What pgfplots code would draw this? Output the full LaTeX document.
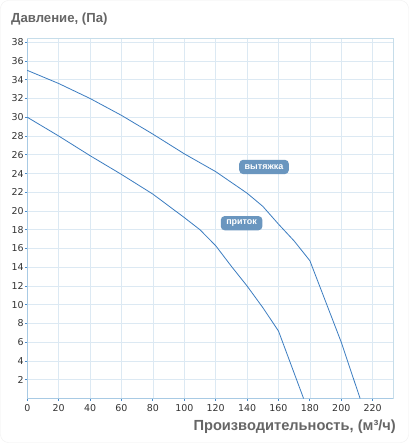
\documentclass[border=0pt]{standalone}
\usepackage{pgfplots}
\pgfplotsset{compat=1.18}
\usepackage{fontspec}
\setmainfont{Liberation Sans}
\newfontfamily\tickfont{DejaVu Sans}
\definecolor{curve}{HTML}{3C7DC1}
\definecolor{gridc}{HTML}{DCE9F3}
\definecolor{axc}{HTML}{A8CAE4}
\definecolor{framec}{HTML}{C6DDEA}
\definecolor{tickc}{HTML}{4A8CCB}
\definecolor{boxc}{HTML}{6A96BF}
\definecolor{txtc}{HTML}{666666}
\definecolor{numc}{HTML}{333333}
\begin{document}
\begin{tikzpicture}
\path[fill=white] (0,0) rectangle (409bp,443bp);
\draw[black!6, rounded corners=8bp] (0.5bp,0.5bp) rectangle (408.5bp,442.5bp);
\begin{axis}[
  at={(27.3bp,44.5bp)}, anchor=origin,
  scale only axis, width=366.4bp, height=360bp,
  xmin=0, xmax=233.4, ymin=0, ymax=38.4,
  xtick={0,20,...,220}, ytick={2,4,...,38},
  grid=major, major grid style={draw=gridc, line width=0.6bp},
  axis x line*=bottom, axis y line*=left,
  axis line style={draw=axc, line width=0.8bp},
  tick style={draw=tickc, line width=0.8bp},
  tick align=outside, major tick length=2.5bp,
  /pgf/number format/assume math mode=true,
  ticklabel style={font=\tickfont\fontsize{9.5}{11}\selectfont, text=numc},
  xticklabel style={inner sep=1bp, yshift=-2bp},
  yticklabel style={inner sep=1bp},
  clip=false,
]
\draw[framec, line width=0.6bp] (rel axis cs:0,1) -- (rel axis cs:1,1) -- (rel axis cs:1,0);
\addplot[curve, line width=0.8bp] coordinates {
  (0,35) (20,33.6) (40,32) (60,30.2) (80,28.2) (100,26.1) (120,24.2)
  (140,21.9) (150,20.5) (160,18.6) (170,16.8) (180,14.7) (200,6) (212,0)
};
\addplot[curve, line width=0.8bp] coordinates {
  (0,30) (20,28) (40,25.9) (60,23.9) (80,21.8) (100,19.3) (110,18)
  (120,16.3) (130,14.1) (140,12) (150,9.7) (160,7.2) (176,0)
};
\node[fill=boxc, rounded corners=4bp, text=white, font=\bfseries\fontsize{9}{10}\selectfont,
  inner xsep=5.5bp, inner ysep=0pt, minimum height=14.3bp] at (axis cs:150.8,24.7) {вытяжка};
\node[fill=boxc, rounded corners=4bp, text=white, font=\bfseries\fontsize{9}{10}\selectfont,
  inner xsep=5.5bp, inner ysep=0pt, minimum height=14.3bp] at (axis cs:136.5,18.7) {приток};
\end{axis}
\node[anchor=west, inner sep=0pt, font=\bfseries\fontsize{13.2}{16}\selectfont, text=txtc] at (11bp,424bp) {Давление, (Па)};
\node[anchor=east, inner sep=0pt, font=\bfseries\fontsize{14.7}{17}\selectfont, text=txtc] at (396bp,16bp) {Производительность, (м³/ч)};
\pgfresetboundingbox
\path (0,0) rectangle (409bp,443bp);
\end{tikzpicture}
\end{document}
